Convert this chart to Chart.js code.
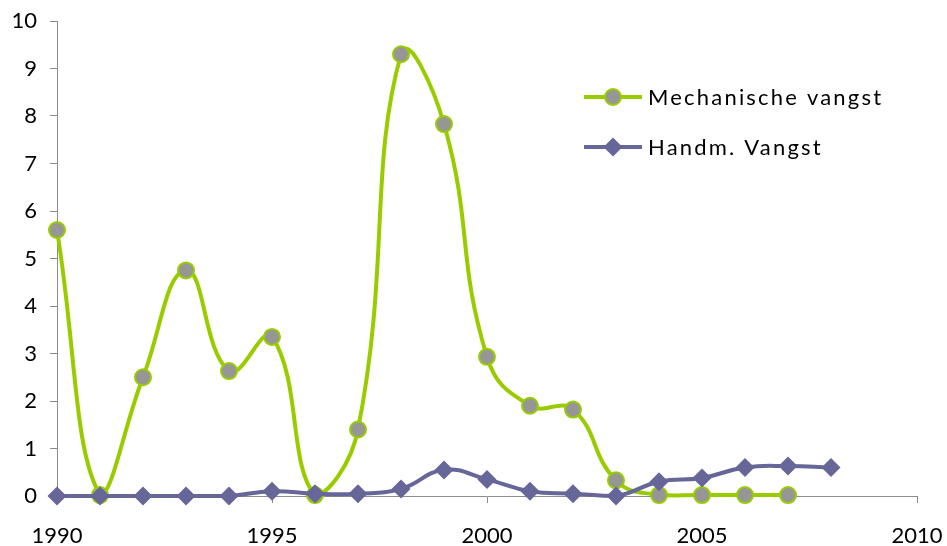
<!DOCTYPE html>
<html>
<head>
<meta charset="utf-8">
<script src="https://cdn.jsdelivr.net/npm/chart.js@4"></script>
<style>
  body { margin: 0; background: #fff; }
</style>
</head>
<body>
<canvas id="chart-line" width="947" height="546"></canvas>
<script>
// data
const years = [1990,1991,1992,1993,1994,1995,1996,1997,1998,1999,2000,2001,2002,2003,2004,2005,2006,2007,2008];
const mechanisch = [5.6,0.02,2.5,4.75,2.63,3.35,0.02,1.4,9.3,7.83,2.93,1.9,1.82,0.33,0.02,0.02,0.02,0.02];
const handmatig = [0,0,0,0,0,0.1,0.05,0.05,0.15,0.55,0.35,0.1,0.05,0,0.3,0.38,0.6,0.63,0.6];
const yTicks = [0,1,2,3,4,5,6,7,8,9,10];
const xTicks = [1990,1995,2000,2005,2010];
const seriesNames = ['Mechanische vangst', 'Handm. Vangst'];

const green = '#99cc00';
const grey = '#969696';
const purple = '#666699';
const axisColor = '#8c8c8c';
const font = { family: 'Lato', size: 22 };

// legend drawn inside the plot, like the original
const innerLegend = {
    id: 'innerLegend',
    afterDraw(chart) {
        const ctx = chart.ctx;
        const rows = [{ y: 97, ds: 0 }, { y: 147, ds: 1 }];
        ctx.save();
        rows.forEach(r => {
            const ds = chart.data.datasets[r.ds];
            ctx.strokeStyle = ds.borderColor;
            ctx.lineWidth = 4;
            ctx.beginPath();
            ctx.moveTo(584, r.y);
            ctx.lineTo(642, r.y);
            ctx.stroke();
            ctx.fillStyle = ds.pointBackgroundColor;
            ctx.strokeStyle = ds.pointBorderColor;
            ctx.lineWidth = ds.pointBorderWidth;
            ctx.beginPath();
            if (ds.pointStyle === 'circle') {
                ctx.arc(613, r.y, ds.pointRadius, 0, Math.PI * 2);
            } else {
                const s = ds.pointRadius;
                ctx.moveTo(613, r.y - s); ctx.lineTo(613 + s, r.y);
                ctx.lineTo(613, r.y + s); ctx.lineTo(613 - s, r.y);
                ctx.closePath();
            }
            ctx.fill();
            if (ds.pointBorderWidth) ctx.stroke();
            ctx.fillStyle = '#000';
            ctx.font = '22px Lato';
            ctx.letterSpacing = '2.2px';
            ctx.textBaseline = 'middle';
            ctx.fillText(ds.label, 648, r.y + 1);
            ctx.letterSpacing = '0px';
        });
        ctx.restore();
    }
};

let chartLine = document.getElementById('chart-line').getContext('2d');

let lineChart = new Chart(chartLine, {
    type: 'line',
    data: {
        datasets: [{
            label: seriesNames[0],
            data: mechanisch.map((v, i) => ({ x: years[i], y: v })),
            borderColor: green,
            borderWidth: 4,
            pointStyle: 'circle',
            pointRadius: 8,
            pointBackgroundColor: grey,
            pointBorderColor: green,
            pointBorderWidth: 2,
            tension: 0.45,
            clip: false,
            order: 2
        }, {
            label: seriesNames[1],
            data: handmatig.map((v, i) => ({ x: years[i], y: v })),
            borderColor: purple,
            borderWidth: 4,
            pointStyle: 'rectRot',
            pointRadius: 9.5,
            pointBackgroundColor: purple,
            pointBorderColor: purple,
            pointBorderWidth: 0,
            tension: 0.45,
            clip: false,
            order: 1
        }]
    },
    options: {
        responsive: false,
        animation: false,
        layout: { padding: { top: 21, right: 30, left: 0, bottom: 0 } },
        plugins: {
            legend: { display: false },
            tooltip: { enabled: false }
        },
        scales: {
            x: {
                type: 'linear',
                min: 1990,
                max: 2010,
                afterBuildTicks: s => { s.ticks = xTicks.map(v => ({ value: v })); },
                afterFit: s => { s.height = 50; s.paddingLeft = 0; s.paddingRight = 0; },
                grid: { drawOnChartArea: false, tickLength: 7, color: axisColor },
                border: { color: axisColor, width: 1 },
                ticks: { color: '#000', font: font, maxRotation: 0, padding: 20, autoSkip: false,
                         callback: v => String(v) }
            },
            y: {
                min: 0,
                max: 10,
                afterBuildTicks: s => { s.ticks = yTicks.map(v => ({ value: v })); },
                afterFit: s => { s.width = 57; s.paddingTop = 0; s.paddingBottom = 0; },
                grid: { drawOnChartArea: false, tickLength: 7, color: axisColor },
                border: { color: axisColor, width: 1 },
                ticks: { color: '#000', font: font, padding: 13, autoSkip: false,
                         callback: v => String(v) }
            }
        }
    },
    plugins: [innerLegend]
});
</script>
</body>
</html>
